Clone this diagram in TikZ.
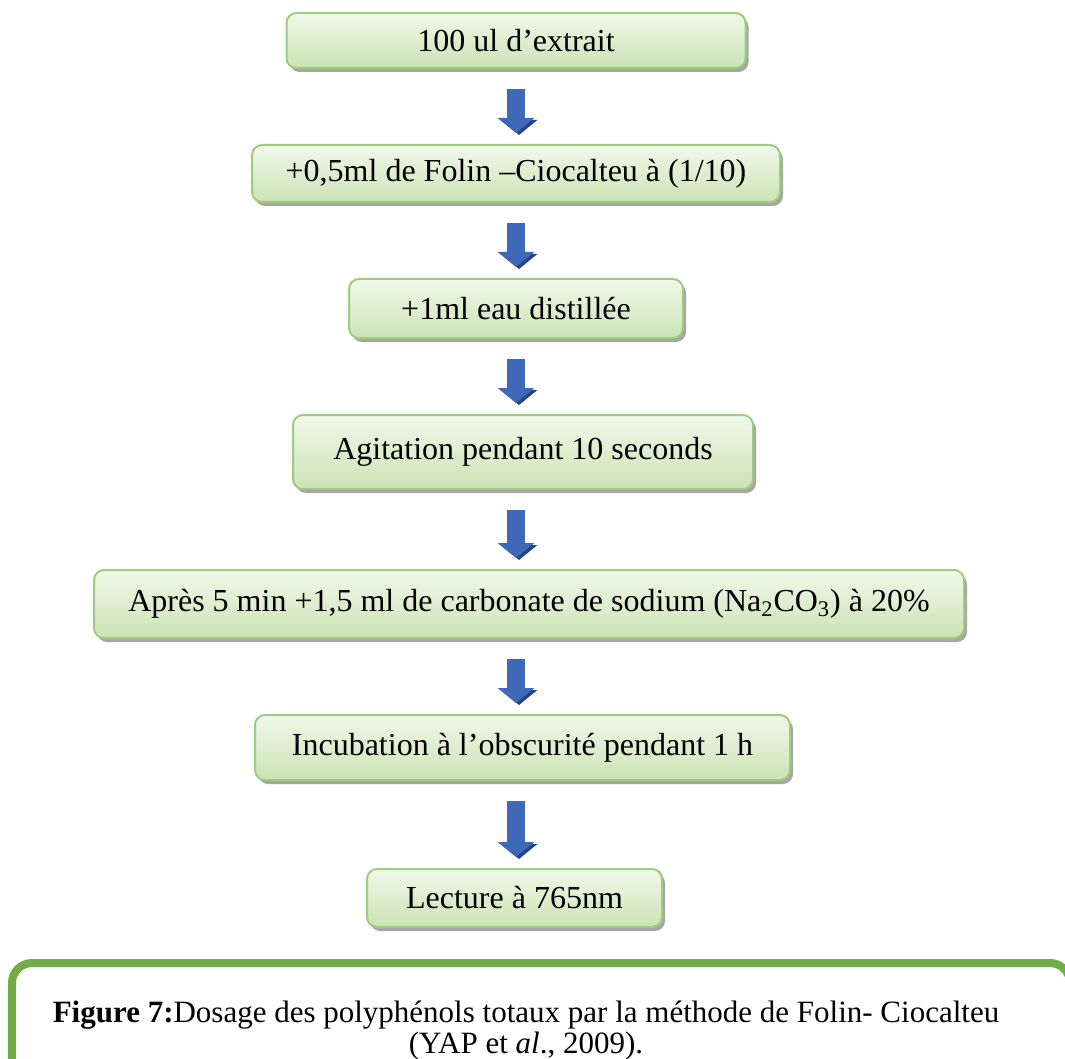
\documentclass[tikz,border=0pt]{standalone}
\usepackage{fontspec}
\setmainfont{Liberation Serif}
\usepackage{xcolor}
\usetikzlibrary{arrows.meta,positioning,shadows}
\definecolor{boxtop}{RGB}{241,248,234}
\definecolor{boxbottom}{RGB}{203,227,180}
\definecolor{boxline}{RGB}{157,204,128}
\definecolor{arrowblue}{RGB}{62,104,184}
\definecolor{arrowdark}{RGB}{38,66,128}
\definecolor{framegreen}{RGB}{112,173,71}
\tikzset{
  stepbox/.style={
    rectangle,
    rounded corners=5pt,
    draw=boxline,
    line width=1pt,
    top color=boxtop,
    bottom color=boxbottom,
    minimum height=29pt,
    align=center,
    inner sep=0pt,
    font=\fontsize{16}{19}\selectfont,
    drop shadow={shadow xshift=1.5pt, shadow yshift=-2pt, fill=black!35, opacity=1}
  },
  flow/.style={
    -{Triangle[width=18pt,length=7.5pt]},
    line width=9pt,
    draw=arrowblue,
    shorten <=10pt,
    shorten >=5.5pt,
    preaction={draw=arrowdark, transform canvas={xshift=1.5pt,yshift=-1pt}}
  }
}

\begin{document}
\begin{tikzpicture}[x=0.5pt, y=-0.5pt, node distance=37.5pt]
\useasboundingbox (0,0) rectangle (1065,1059);
\node[stepbox, minimum width=229.5pt, minimum height=27.5pt] (b1) at (516,40.5) {100 ul d’extrait};
\node[stepbox, minimum width=264pt, minimum height=28.5pt, below=of b1] (b2) {+0,5ml de Folin –Ciocalteu à (1/10)};
\node[stepbox, minimum width=167pt, minimum height=29.5pt, below=of b2] (b3) {+1ml eau distillée};
\node[stepbox, minimum width=230pt, minimum height=37pt, below=of b3, xshift=3.5pt] (b4) {Agitation pendant 10 seconds};
\node[stepbox, minimum width=435pt, minimum height=34pt, below=39.5pt of b4, xshift=3pt] (b5) {Après 5 min +1,5 ml de carbonate de sodium (Na\textsubscript{2}CO\textsubscript{3}) à 20\%};
\node[stepbox, minimum width=267.5pt, minimum height=32.5pt, below=of b5, xshift=-3.25pt] (b6) {Incubation à l’obscurité pendant 1 h};
\node[stepbox, minimum width=147.5pt, minimum height=29pt, below=43.5pt of b6, xshift=-4pt] (b7) {Lecture à 765nm};
\draw[flow] (b1.south) -- (b2.north -| b1);
\draw[flow] (b2.south -| b1) -- (b3.north -| b1);
\draw[flow] (b3.south -| b1) -- (b4.north -| b1);
\draw[flow] (b4.south -| b1) -- (b5.north -| b1);
\draw[flow] (b5.south -| b1) -- (b6.north -| b1);
\draw[flow] (b6.south -| b1) -- (b7.north -| b1);
% caption frame
\draw[line width=4pt, draw=framegreen, rounded corners=10pt] (12,963) rectangle (1070,1090);
\node[font=\fontsize{15.5}{15.5}\selectfont, align=center] (cap) at (526,1031) {\textbf{Figure 7:}Dosage des polyphénols totaux par la méthode de Folin- Ciocalteu\\(YAP et \textit{al}., 2009).};
\end{tikzpicture}
\end{document}
